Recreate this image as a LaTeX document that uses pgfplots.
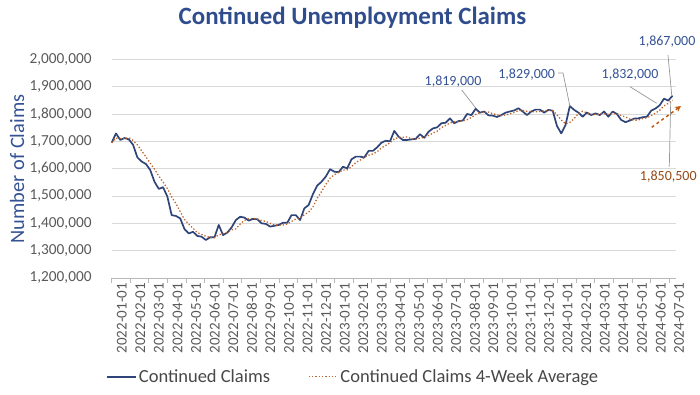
\documentclass[border=0pt]{standalone}
\usepackage{pgfplots}
\pgfplotsset{compat=1.18}
\usepackage{pgfplotstable}
\usetikzlibrary{arrows.meta}
\usepackage{fontspec}
\setmainfont{Carlito}
\definecolor{navy}{RGB}{47,68,120}
\definecolor{avgc}{RGB}{190,100,40}
\definecolor{titlec}{RGB}{47,76,140}
\definecolor{labc}{RGB}{52,82,148}
\definecolor{brownlab}{RGB}{150,72,20}
\definecolor{arrowc}{RGB}{197,90,17}
\definecolor{tickc}{RGB}{89,89,89}
\definecolor{gridc}{RGB}{217,217,217}
\definecolor{leadc}{RGB}{150,150,150}
\pgfplotstableread{
i cc avg
0 1695000 1695000
1 1729000 1712000
2 1705000 1710000
3 1712000 1710000
4 1707000 1713000
5 1687000 1703000
6 1641000 1687000
7 1626000 1665000
8 1617000 1643000
9 1595000 1620000
10 1552000 1598000
11 1526000 1573000
12 1532000 1551000
13 1498000 1527000
14 1430000 1497000
15 1427000 1472000
16 1418000 1443000
17 1379000 1414000
18 1363000 1397000
19 1369000 1382000
20 1354000 1366000
21 1351000 1359000
22 1339000 1353000
23 1349000 1348000
24 1349000 1347000
25 1394000 1358000
26 1357000 1362000
27 1366000 1367000
28 1385000 1376000
29 1412000 1380000
30 1424000 1397000
31 1421000 1411000
32 1410000 1417000
33 1416000 1418000
34 1415000 1416000
35 1400000 1410000
36 1398000 1407000
37 1388000 1400000
38 1391000 1394000
39 1394000 1393000
40 1402000 1394000
41 1402000 1397000
42 1430000 1407000
43 1430000 1416000
44 1412000 1419000
45 1455000 1432000
46 1467000 1441000
47 1507000 1460000
48 1538000 1492000
49 1552000 1516000
50 1571000 1542000
51 1598000 1565000
52 1589000 1578000
53 1587000 1586000
54 1607000 1595000
55 1601000 1596000
56 1634000 1607000
57 1644000 1622000
58 1644000 1631000
59 1641000 1641000
60 1665000 1649000
61 1665000 1654000
62 1678000 1662000
63 1695000 1676000
64 1702000 1685000
65 1700000 1694000
66 1738000 1709000
67 1717000 1714000
68 1705000 1715000
69 1705000 1716000
70 1707000 1709000
71 1709000 1707000
72 1726000 1712000
73 1713000 1714000
74 1735000 1721000
75 1747000 1730000
76 1751000 1737000
77 1766000 1750000
78 1768000 1758000
79 1784000 1767000
80 1766000 1771000
81 1774000 1773000
82 1776000 1775000
83 1800000 1779000
84 1796000 1787000
85 1819000 1798000
86 1805000 1805000
87 1809000 1807000
88 1795000 1807000
89 1794000 1801000
90 1789000 1797000
91 1796000 1794000
92 1805000 1796000
93 1809000 1800000
94 1813000 1806000
95 1821000 1812000
96 1809000 1813000
97 1796000 1810000
98 1809000 1809000
99 1816000 1808000
100 1816000 1809000
101 1805000 1812000
102 1815000 1813000
103 1812000 1812000
104 1756000 1797000
105 1729000 1778000
106 1760000 1764000
107 1829000 1769000
108 1815000 1783000
109 1805000 1802000
110 1790000 1810000
111 1805000 1804000
112 1796000 1799000
113 1802000 1798000
114 1796000 1800000
115 1809000 1801000
116 1790000 1799000
117 1809000 1801000
118 1800000 1802000
119 1778000 1794000
120 1770000 1789000
121 1776000 1781000
122 1783000 1777000
123 1784000 1778000
124 1788000 1783000
125 1790000 1786000
126 1812000 1794000
127 1820000 1803000
128 1832000 1814000
129 1856000 1830000
130 1849000 1839000
131 1867000 1850500
}\claims
\begin{document}
\begin{tikzpicture}[x=1bp,y=1bp]
\path[use as bounding box] (-111.7,-116) rectangle (588.3,278);
\begin{axis}[
  at={(0,0)}, anchor=south west,
  scale only axis, width=564.3bp, height=218.7bp,
  xmin=0, xmax=131.8, ymin=1200000, ymax=2000000,
  ytick={1200000,1300000,1400000,1500000,1600000,1700000,1800000,1900000,2000000},
  scaled y ticks=false,
  /pgf/number format/.cd, fixed, 1000 sep={,}, assume math mode=true,
  /pgfplots/.cd,
  yticklabel style={font=\fontsize{15.3bp}{17bp}\selectfont, text=tickc, inner sep=0pt, xshift=-15bp},
  ymajorgrids, grid style={gridc, line width=0.8bp},
  axis x line*=bottom, axis y line*=left,
  y axis line style={draw=none}, ytick style={draw=none},
  x axis line style={draw=gridc!85!black, line width=0.8bp},
  xtick={0,4.34,8.68,13.02,17.36,21.70,26.04,30.38,34.72,39.06,43.40,47.74,52.08,56.42,60.76,65.10,69.44,73.78,78.12,82.46,86.80,91.14,95.48,99.82,104.16,108.50,112.84,117.18,121.52,125.86,130.20},
  xticklabels={2022-01-01,2022-02-01,2022-03-01,2022-04-01,2022-05-01,2022-06-01,2022-07-01,2022-08-01,2022-09-01,2022-10-01,2022-11-01,2022-12-01,2023-01-01,2023-02-01,2023-03-01,2023-04-01,2023-05-01,2023-06-01,2023-07-01,2023-08-01,2023-09-01,2023-10-01,2023-11-01,2023-12-01,2024-01-01,2024-02-01,2024-03-01,2024-04-01,2024-05-01,2024-06-01,2024-07-01},
  xticklabel style={rotate=90, anchor=east, font=\fontsize{15bp}{17bp}\selectfont, text=tickc, inner sep=0pt, yshift=-10bp},
  xtick style={draw=gridc!85!black, line width=0.8bp},
  tick align=outside, major tick length=5bp,
  clip=false,
  legend style={at={(-5.7bp,-98.7bp)}, anchor=west, draw=none, fill=none, inner sep=0pt,
    nodes={inner sep=2bp},
    font=\fontsize{18.5bp}{20bp}\selectfont, text=tickc!80!black,
    legend columns=2, /tikz/every even column/.append style={column sep=36bp}},
  legend image code/.code={\draw[#1] (0bp,0bp) -- (29bp,0bp);},
]
\addplot[navy, line width=1.7bp, line join=round] table[x=i,y=cc]{\claims};
\addlegendentry{Continued Claims}
\addplot[avgc, line width=1.3bp, dotted] table[x=i,y=avg]{\claims};
\addlegendentry{Continued Claims 4-Week Average}
\end{axis}
% title and y label
\node[text=titlec, font=\fontsize{24.9bp}{28bp}\selectfont\bfseries] at (240.8,260) {Continued Unemployment Claims};
\node[text=labc, rotate=90, font=\fontsize{20.4bp}{22bp}\selectfont] at (-94.7,109) {Number of Claims};
% annotations
\def\annfont{\fontsize{14bp}{15bp}\selectfont}
\draw[leadc, line width=0.7bp] (350,188) -- (364,170);
\node[text=labc, font=\annfont] at (341.3,196.3) {1,819,000};
\draw[leadc, line width=0.7bp] (446.3,205) -- (451.3,205) -- (458.3,171.3);
\node[text=labc, font=\annfont] at (415,203) {1,829,000};
\draw[leadc, line width=0.7bp] (518.3,191.3) -- (545,174.7);
\node[text=labc, font=\annfont] at (518.3,203) {1,832,000};
\draw[leadc, line width=0.7bp] (556.3,223) -- (560,183);
\node[text=labc, font=\annfont] at (555.3,236) {1,867,000};
\draw[leadc, line width=0.7bp] (557.6,111.3) -- (559,176.3);
\node[text=brownlab, font=\annfont] at (556.6,101.3) {1,850,500};
\draw[arrowc, line width=1.5bp, dashed, -{Stealth[length=6bp,width=6bp]}] (540,150.7) -- (569.3,172);
\end{tikzpicture}
\end{document}
